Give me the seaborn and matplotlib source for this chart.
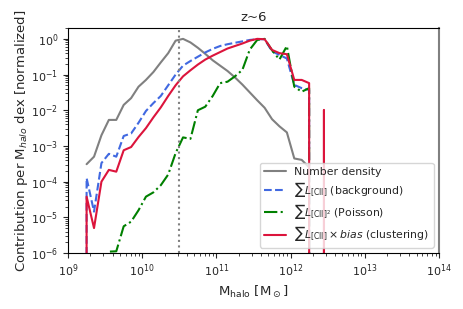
import matplotlib
matplotlib.use('Agg')
import matplotlib.pyplot as plt
import numpy as np
import pandas as pd
import seaborn as sns

# log10 halo mass bin centres
log_mhalo = [9.15, 9.25, 9.35, 9.45, 9.55, 9.65, 9.75, 9.85, 9.95, 10.05, 10.15,
             10.25, 10.35, 10.45, 10.55, 10.65, 10.75, 10.85, 10.95, 11.05, 11.15,
             11.25, 11.35, 11.45, 11.55, 11.65, 11.75, 11.85, 11.95, 12.05, 12.15,
             12.25, 12.35, 12.45, 12.55]

# log10 of normalized contributions (None -> zero)
log_number_density = [None, -3.51, -3.3, -2.7, -2.27, -2.27, -1.85, -1.66, -1.34, -1.15,
                      -0.93, -0.66, -0.4, -0.05, 0.0, -0.1, -0.25, -0.42, -0.6, -0.75,
                      -0.9, -1.08, -1.28, -1.5, -1.72, -1.93, -2.25, -2.45, -2.62, -3.35,
                      -3.39, -3.6, None, None, None]
log_background = [None, -3.9, -4.84, -3.48, -3.22, -3.3, -2.72, -2.65, -2.35, -2.02,
                  -1.8, -1.6, -1.3, -1.0, -0.75, -0.62, -0.5, -0.38, -0.28, -0.2,
                  -0.15, -0.11, -0.07, -0.03, -0.01, -0.01, -0.35, -0.45, -0.55, -1.29,
                  -1.38, -1.43, None, None, None]
log_poisson = [None, -7.0, -6.8, -6.5, -5.96, -5.95, -5.25, -5.12, -4.8, -4.42,
               -4.3, -4.1, -3.8, -3.2, -2.76, -2.8, -2.0, -1.9, -1.6, -1.24,
               -1.2, -1.05, -0.87, -0.3, -0.03, 0.0, -0.32, -0.58, -0.2, -1.34,
               -1.48, -1.38, None, None, None]
log_clustering = [None, -4.42, -5.3, -4.0, -3.67, -3.72, -3.12, -3.03, -2.75, -2.5,
                  -2.2, -1.92, -1.6, -1.3, -1.05, -0.88, -0.72, -0.58, -0.47, -0.37,
                  -0.27, -0.2, -0.13, -0.05, 0.0, -0.01, -0.31, -0.4, -0.43, -1.15,
                  -1.15, -1.24, None, -1.99, None]

m_peak_line = 10**10.5


def to_lin(vals):
    return [0.0 if v is None else 10**v for v in vals]


df = pd.DataFrame({
    'mhalo': [10**x for x in log_mhalo],
    'number': to_lin(log_number_density),
    'background': to_lin(log_background),
    'poisson': to_lin(log_poisson),
    'clustering': to_lin(log_clustering),
})

sns.set_style('ticks')
plt.rcParams['xtick.direction'] = 'out'
plt.rcParams['ytick.direction'] = 'out'

fig = plt.figure(figsize=(4.63, 3.09), dpi=100)
ax = fig.add_axes([0.147, 0.181, 0.801, 0.728])

# number density only where it is defined
nd = df[df['number'] > 0]
sns.lineplot(data=nd, x='mhalo', y='number', color='gray', lw=1.5,
             estimator=None, sort=False, ax=ax, label='Number density')
sns.lineplot(data=df, x='mhalo', y='background', color='royalblue', lw=1.5,
             linestyle='--', estimator=None, sort=False, ax=ax,
             label=r'$\sum L_{\rm [CII]}$ (background)')
sns.lineplot(data=df, x='mhalo', y='poisson', color='green', lw=1.5,
             linestyle='-.', estimator=None, sort=False, ax=ax,
             label=r'$\sum L_{\rm [CII]^2}$ (Poisson)')
sns.lineplot(data=df, x='mhalo', y='clustering', color='crimson', lw=1.5,
             estimator=None, sort=False, ax=ax,
             label=r'$\sum L_{\rm [CII]} \times \mathit{bias}$ (clustering)')

ax.axvline(m_peak_line, color='gray', ls=':', lw=1.5)

ax.set_xscale('log')
ax.set_yscale('log')
ax.set_xlim(1e9, 1e14)
ax.set_ylim(1e-6, 2)

ax.set_title('z~6', fontsize=9.5, pad=5)
ax.set_xlabel(r'M$_{\rm halo}$ [M$_\odot$]', fontsize=9.5, labelpad=3)
ax.set_ylabel(r'Contribution per M$_{halo}$ dex [normalized]', fontsize=9.5,
              labelpad=1)
ax.tick_params(labelsize=8)
for s in ax.spines.values():
    s.set_color('black')
ax.spines['right'].set_color('gray')
ax.spines['right'].set_linewidth(1.5)

ax.legend(loc='lower right', fontsize=7.8, framealpha=0.8, labelspacing=0.3)

fig.savefig('out.png', dpi=100)
